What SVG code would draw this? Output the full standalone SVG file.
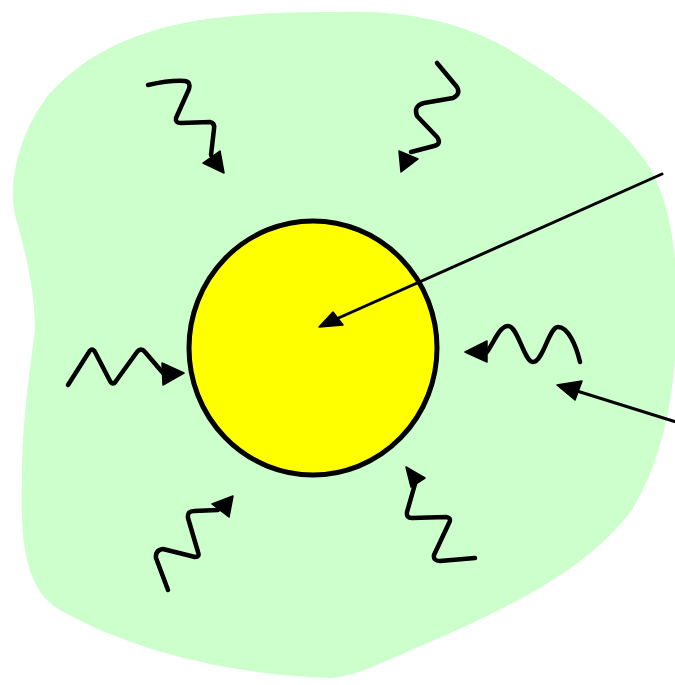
<svg xmlns="http://www.w3.org/2000/svg" width="675" height="685" viewBox="0 0 675 685">
<style>
.wave{fill:none;stroke:#000;stroke-width:4.5;stroke-linecap:round;stroke-linejoin:round}
.ray{fill:none;stroke:#000;stroke-width:3;stroke-linecap:round}
.head{fill:#000;stroke:#000;stroke-width:1.5;stroke-linejoin:round}
</style>
<rect width="675" height="685" fill="#ffffff"/>
<g id="medium">
<path d="M340,12 C400,10 460,20 510,50 C560,80 620,120 650,168 C670,205 678,250 677,320 C675,400 662,460 632,510 C580,580 480,620 400,655 C370,668 350,677 330,678 C230,675 130,650 60,610 C25,590 20,540 22,480 C22,420 30,370 35,330 C35,290 25,250 15,215 C8,180 20,130 50,93 C90,50 140,30 200,20 C260,12 300,12 340,12 Z" fill="#ccffcc"/>
</g>
<g id="particle">
<ellipse cx="313" cy="348" rx="124" ry="127" fill="#ffff00" stroke="#000" stroke-width="5"/>
</g>
<g id="connectors">
<g id="wave-top-left">
<path class="wave" d="M148,85 Q170,80 185,81 Q191,82 189,89 L176,118 Q175,123 181,123 L210,122 Q215,123 214,129 L211,155"/>
<polygon class="head" points="203,163 220,151 224,173"/>
</g>
<g id="wave-top-right">
<path class="wave" d="M437,63 L457,87 Q461,94 453,98 L424,103 Q413,106 417,116 L437,137 Q442,144 434,146 L411,152"/>
<polygon class="head" points="399,151 418,159 401,172"/>
</g>
<g id="wave-left">
<path class="wave" d="M68,385 L89,352 Q92,347 95,352 L110,381 Q113,386 116,381 L137,352 Q141,347 145,352 L163,373"/>
<polygon class="head" points="162,363 163,385 184,373"/>
</g>
<g id="wave-right">
<path class="wave" d="M487,352 C495,340 500,326 508,326 C518,326 524,362 533,362 C543,362 549,327 558,327 C568,327 576,345 580,362"/>
<polygon class="head" points="465,352 487,341 487,362"/>
</g>
<g id="wave-bottom-left">
<path class="wave" d="M168,590 L156,558 Q155,550 163,549 L195,557 Q200,557 198,552 L188,518 Q187,511 194,511 L218,510"/>
<polygon class="head" points="212,504 229,517 233,496"/>
</g>
<g id="wave-bottom-right">
<path class="wave" d="M415,484 L407,512 Q406,518 412,518 L446,517 Q452,518 449,523 L434,555 Q433,561 440,561 L475,558"/>
<polygon class="head" points="406,467 425,478 411,487"/>
</g>
<g id="ray-upper">
<line class="ray" x1="662" y1="174" x2="334" y2="320"/>
<polygon class="head" points="319,327 333,312 343,325"/>
</g>
<g id="ray-lower">
<line class="ray" x1="676" y1="422" x2="577" y2="391"/>
<polygon class="head" points="557,385 582,381 575,400"/>
</g>
</g>
</svg>
